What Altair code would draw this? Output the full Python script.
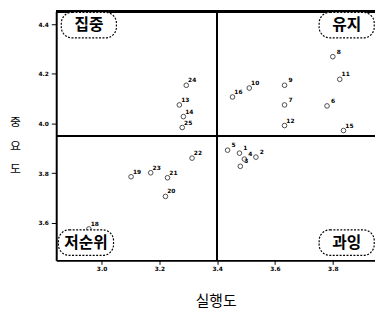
import altair as alt
import pandas as pd

# ---- data ----
point_labels = ["1", "2", "3", "4", "5", "6", "7", "8", "9", "10", "11", "12",
                "13", "14", "15", "16", "18", "19", "20", "21", "22", "23", "24", "25"]
perf = [3.477, 3.534, 3.480, 3.494, 3.436, 3.780, 3.633, 3.800, 3.633, 3.511, 3.824, 3.633,
        3.269, 3.283, 3.837, 3.453, 2.956, 3.102, 3.221, 3.228, 3.313, 3.170, 3.293, 3.279]
imp = [3.881, 3.865, 3.828, 3.857, 3.893, 4.071, 4.075, 4.269, 4.154, 4.143, 4.178, 3.992,
       4.075, 4.028, 3.972, 4.107, 3.576, 3.786, 3.707, 3.782, 3.861, 3.802, 4.154, 3.984]

quad_names = ["집중", "유지", "저순위", "과잉"]
quad_perf = [2.956, 3.848, 2.946, 3.848]
quad_imp = [4.396, 4.396, 3.521, 3.521]

x_ticks = [3.0, 3.2, 3.4, 3.6, 3.8]
y_ticks = [3.6, 3.8, 4.0, 4.2, 4.4]
cut_perf = 3.40
cut_imp = 3.95

df = pd.DataFrame({"label": point_labels, "perf": perf, "imp": imp})
qdf = pd.DataFrame({"name": quad_names, "perf": quad_perf, "imp": quad_imp})

KFONT = "Noto Sans CJK KR"
W, H = 324, 253

xs = alt.Scale(domain=[2.843, 3.946], nice=False, zero=False)
ys = alt.Scale(domain=[3.4495, 4.451], nice=False, zero=False)

x_axis = alt.Axis(values=x_ticks, format=".1f", grid=False, tickSize=4, tickWidth=1,
                  tickColor="black", domainColor="black", domainWidth=2,
                  labelFontSize=6, labelFont="DejaVu Sans", labelFontWeight="bold",
                  labelColor="black", labelPadding=1,
                  titleFont=KFONT, titleFontSize=15, titleFontWeight="normal",
                  titleColor="black", titleY=41, titleBaseline="middle")
y_axis = alt.Axis(values=y_ticks, format=".1f", grid=False, tickSize=5, tickWidth=1,
                  tickColor="black", domainColor="black", domainWidth=2,
                  labelFontSize=6, labelFont="DejaVu Sans", labelFontWeight="bold",
                  labelColor="black", labelPadding=3,
                  titleFont=KFONT, titleFontSize=12, titleFontWeight="normal",
                  titleColor="black", titleAngle=0, titleX=-42, titleY=112,
                  titleAlign="center", titleBaseline="middle", titleLineHeight=24)

X = alt.X("perf:Q", scale=xs, axis=x_axis, title="실행도")
Y = alt.Y("imp:Q", scale=ys, axis=y_axis, title=["중", "요", "도"])

pts = alt.Chart(df).mark_point(shape="circle", filled=False, color="black",
                               size=22, strokeWidth=1).encode(x=X, y=Y)
lbl = alt.Chart(df).mark_text(fontSize=6, fontWeight="bold", font="DejaVu Sans",
                              color="black", dx=6, dy=-5).encode(x=X, y=Y, text="label:N")

vline = alt.Chart(df).mark_rule(color="black", strokeWidth=1.5).encode(x=alt.datum(cut_perf))
hline = alt.Chart(df).mark_rule(color="black", strokeWidth=1.5).encode(y=alt.datum(cut_imp))
top = alt.Chart(df).mark_rule(color="black", strokeWidth=2).encode(
    x=alt.value(0), x2=alt.value(W), y=alt.value(0))

hw, hh = 0.0953, 0.0515
boxes = alt.Chart(qdf).transform_calculate(
    px1=f"datum.perf - {hw}", px2=f"datum.perf + {hw}",
    py1=f"datum.imp - {hh}", py2=f"datum.imp + {hh}"
).mark_rect(fill="white", stroke="black", strokeWidth=1.2, strokeDash=[2, 1.5],
            cornerRadius=11).encode(
    x=alt.X("px1:Q", scale=xs, axis=x_axis, title="실행도"), x2="px2:Q",
    y=alt.Y("py1:Q", scale=ys, axis=y_axis, title=["중", "요", "도"]), y2="py2:Q")
btxt = alt.Chart(qdf).mark_text(font=KFONT, fontSize=16, fontWeight="bold",
                                color="black", baseline="middle").encode(
    x=X, y=Y, text="name:N")

chart = alt.layer(vline, hline, top, pts, lbl, boxes, btxt).properties(
    width=W, height=H,
    padding={"left": 49, "top": 1, "right": 0, "bottom": 54},
    autosize=alt.AutoSizeParams(type="none"),
).configure_view(stroke=None).configure(background="white")

chart.save("out.html", embed_options={"renderer": "svg", "actions": False})
